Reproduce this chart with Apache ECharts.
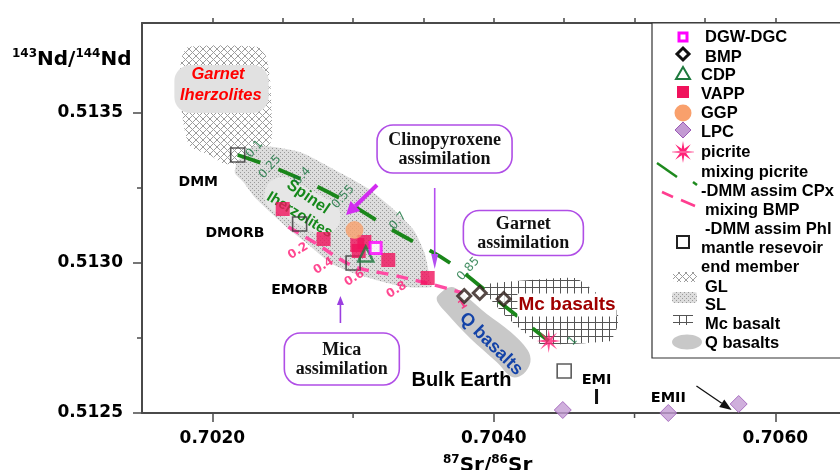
<!DOCTYPE html>
<html>
<head>
<meta charset="utf-8">
<script src="https://cdn.jsdelivr.net/npm/echarts@6/dist/echarts.min.js"></script>
<style>
  html, body { margin: 0; padding: 0; background: #fff; }
  #chart { width: 840px; height: 470px; }
</style>
</head>
<body>
<div id="chart"></div>
<script>
// ---- axes ----
const srRange = [0.7015, 0.70646];
const ndRange = [0.5125, 0.5138];
const srTopTicks = [0.7020, 0.7025, 0.7030, 0.7035, 0.7040, 0.7045, 0.7050, 0.7055, 0.7060];
const srMajorTicks = [0.7020, 0.7040, 0.7060];
const srMinorTicks = [0.7030, 0.7050];
const ndMajorTicks = [0.5125, 0.5130, 0.5135];
const ndMinorTicks = [0.51275, 0.51325];

// ---- samples: [87Sr/86Sr, 143Nd/144Nd] ----
const dgwDgc = [[0.70316, 0.51305]];
const bmp = [[0.70379, 0.51289], [0.70390, 0.51290], [0.70407, 0.51288]];
const cdp = [[0.70309, 0.51303]];
const vapp = [[0.70250, 0.51318], [0.70279, 0.51308], [0.70303, 0.51306], [0.70308, 0.51307],
              [0.70304, 0.51304], [0.70325, 0.51301], [0.70353, 0.51295]];
const ggp = [[0.70301, 0.51311]];
const lpc = [[0.70449, 0.51251], [0.70524, 0.51250], [0.70574, 0.51253]];
const picrite = [[0.70439, 0.51274]];
const endMembers = [[0.70218, 0.51336], [0.70262, 0.51313], [0.70300, 0.51300], [0.70450, 0.51264]];

// ---- mixing models ----
const mixPicriteDmm = [[0.70218, 0.51336], [0.70248, 0.51331], [0.70289, 0.51322], [0.70328, 0.51311],
                       [0.70369, 0.51300], [0.70404, 0.51287], [0.70439, 0.51274]];
const mixPicriteSteps = [['0.1', 0.70230, 0.51338], ['0.25', 0.70241, 0.51332], ['0.4', 0.70264, 0.51329],
                         ['0.55', 0.70293, 0.51322], ['0.7', 0.70332, 0.51314], ['0.85', 0.70382, 0.51298],
                         ['1', 0.70456, 0.51274]];
const mixBmpDmm = [[0.70254, 0.51312], [0.70272, 0.51307], [0.70300, 0.51299], [0.70328, 0.51296],
                   [0.70355, 0.51293], [0.70378, 0.51290]];
const mixBmpSteps = [['0.2', 0.70261, 0.51304], ['0.4', 0.70279, 0.51299], ['0.6', 0.70301, 0.51295],
                     ['0.8', 0.70331, 0.51291], ['1', 0.70378, 0.51286]];

// ---- compositional fields (outlines) ----
const fieldGL = [[0.70183, 0.51372], [0.70232, 0.51372], [0.70238, 0.51369], [0.70241, 0.51361],
                 [0.70242, 0.51351], [0.70242, 0.51341], [0.70235, 0.51336], [0.70225, 0.51334],
                 [0.70209, 0.51333], [0.70198, 0.51336], [0.70184, 0.51339], [0.70179, 0.51348],
                 [0.70177, 0.51361], [0.70178, 0.51368]];
const fieldSL = [[0.70230, 0.51339], [0.70262, 0.51337], [0.70291, 0.51330], [0.70310, 0.51325],
                 [0.70326, 0.51319], [0.70343, 0.51311], [0.70351, 0.51303], [0.70355, 0.51294],
                 [0.70356, 0.51292], [0.70337, 0.51292], [0.70319, 0.51294], [0.70298, 0.51297],
                 [0.70284, 0.51300], [0.70266, 0.51307], [0.70255, 0.51311], [0.70241, 0.51317],
                 [0.70230, 0.51322], [0.70222, 0.51327], [0.70216, 0.51330], [0.70218, 0.51334]];
const fieldMc = [[0.70394, 0.51293], [0.70458, 0.51295], [0.70488, 0.51284], [0.70488, 0.51279],
                 [0.70483, 0.51274], [0.70433, 0.51273], [0.70409, 0.51282], [0.70394, 0.51290]];
const fieldQ = [[0.70360, 0.51289], [0.70370, 0.51292], [0.70380, 0.51289], [0.70395, 0.51283],
                [0.70412, 0.51277], [0.70424, 0.51271], [0.70426, 0.51267], [0.70421, 0.51263],
                [0.70413, 0.51262], [0.70402, 0.51267], [0.70383, 0.51275], [0.70367, 0.51283],
                [0.70360, 0.51287]];

// ---- fill textures ----
function tile(size, draw) {
  const c = document.createElement('canvas');
  c.width = c.height = size;
  draw(c.getContext('2d'), size);
  return { image: c, repeat: 'repeat' };
}
const hatchGL = tile(7, (g, s) => {
  g.fillStyle = '#fff'; g.fillRect(0, 0, s, s);
  g.strokeStyle = '#9c9c9c'; g.lineWidth = 1;
  g.beginPath(); g.moveTo(0, 0); g.lineTo(s, s); g.moveTo(s, 0); g.lineTo(0, s); g.stroke();
});
const dotsSL = tile(4, (g, s) => {
  g.fillStyle = '#dddddd'; g.fillRect(0, 0, s, s);
  g.fillStyle = '#999999'; g.fillRect(0, 0, 1, 1); g.fillRect(2, 2, 1, 1);
});
const gridMc = tile(7, (g, s) => {
  g.fillStyle = '#fff'; g.fillRect(0, 0, s, s);
  g.fillStyle = '#555'; g.fillRect(0, 0, s, 1); g.fillRect(0, 0, 1, s);
});
const fieldShapes = [fieldGL, fieldSL, fieldMc, fieldQ];
const fieldFills = [hatchGL, dotsSL, gridMc, '#c8c8c8'];
const fieldSmooth = [0.25, 0.2, 0.1, 0.35];

function starPoints(n, rOut, rIn, cx, cy) {
  const pts = [];
  for (let k = 0; k < 2 * n; k++) {
    const r = k % 2 ? rIn : rOut;
    const a = Math.PI * k / n - Math.PI / 2;
    pts.push([cx + r * Math.cos(a), cy + r * Math.sin(a)]);
  }
  return pts;
}
const starSymbol = 'path://' + starPoints(8, 12, 3.6, 0, 0)
  .map((p, i) => (i ? 'L' : 'M') + p[0].toFixed(2) + ' ' + p[1].toFixed(2)).join(' ') + ' Z';

const boldSans = '"DejaVu Sans", Verdana, sans-serif';
const arial = '"Liberation Sans", Arial, sans-serif';
const serif = '"Liberation Serif", "Times New Roman", serif';
const axisColor = '#4a4a4a';

const chart = echarts.init(document.getElementById('chart'), null, { renderer: 'canvas' });

const stepLabel = (color, rotate, size, weight) => ({
  show: true, position: 'inside', rotate: rotate,
  formatter: p => p.value[2],
  color: color, fontSize: size, fontWeight: weight, fontFamily: boldSans
});

const option = {
  animation: false,
  backgroundColor: '#fff',
  grid: { left: 142, right: 0, top: 23, bottom: 57 },
  xAxis: [
    {
      type: 'value', position: 'bottom', min: srRange[0], max: srRange[1],
      axisLine: { show: true, onZero: false, lineStyle: { color: axisColor, width: 2 } },
      axisTick: { show: true, customValues: srMajorTicks, length: 9, lineStyle: { color: axisColor, width: 1.5 } },
      axisLabel: {
        customValues: srMajorTicks, formatter: v => v.toFixed(4), margin: 17,
        color: '#000', fontFamily: boldSans, fontWeight: 'bold', fontSize: 17
      },
      splitLine: { show: false }
    },
    {
      type: 'value', position: 'top', min: srRange[0], max: srRange[1],
      axisLine: { show: true, onZero: false, lineStyle: { color: axisColor, width: 2 } },
      axisTick: { show: true, customValues: srTopTicks, length: 5, lineStyle: { color: axisColor, width: 1.5 } },
      axisLabel: { show: false },
      splitLine: { show: false }
    }
  ],
  yAxis: [
    {
      type: 'value', position: 'left', min: ndRange[0], max: ndRange[1],
      axisLine: { show: true, onZero: false, lineStyle: { color: axisColor, width: 2 } },
      axisTick: { show: true, customValues: ndMajorTicks, length: 9, lineStyle: { color: axisColor, width: 1.5 } },
      axisLabel: {
        customValues: ndMajorTicks, formatter: v => v.toFixed(4), margin: 19,
        color: '#000', fontFamily: boldSans, fontWeight: 'bold', fontSize: 17
      },
      splitLine: { show: false }
    }
  ],
  series: [
    {
      name: 'fields', type: 'custom', z: 1, silent: true, clip: false,
      encode: { x: 0, y: 1 },
      data: fieldShapes.map(f => f[0]),
      renderItem: (params, api) => {
        const i = params.dataIndex;
        return {
          type: 'polygon',
          shape: { points: fieldShapes[i].map(p => api.coord(p)), smooth: fieldSmooth[i] },
          style: { fill: fieldFills[i] }
        };
      }
    },
    {
      name: 'mixing picrite-DMM assim CPx', type: 'line', z: 3, data: mixPicriteDmm,
      smooth: 0.35, symbol: 'none', silent: true,
      lineStyle: { color: '#1a861a', width: 3.8, type: [24, 19] }
    },
    {
      name: 'mixing BMP-DMM assim Phl', type: 'line', z: 3, data: mixBmpDmm,
      smooth: 0.35, symbol: 'none', silent: true,
      lineStyle: { color: '#ff4ca3', width: 3.5, type: [12, 8] }
    },
    {
      name: 'picrite steps', type: 'scatter', z: 4, symbolSize: 0, silent: true,
      data: mixPicriteSteps.map(s => [s[1], s[2], s[0]]),
      label: stepLabel('#12703a', 48, 12, 'normal')
    },
    {
      name: 'BMP steps', type: 'scatter', z: 4, symbolSize: 0, silent: true,
      data: mixBmpSteps.map(s => [s[1], s[2], s[0]]),
      label: stepLabel('#ff1a75', 32, 12, 'bold')
    },
    {
      name: 'mantle resevoir end member', type: 'scatter', z: 4, data: endMembers,
      symbol: 'rect', symbolSize: 14,
      itemStyle: { color: 'rgba(0,0,0,0)', borderColor: '#333', borderWidth: 1.6 }
    },
    {
      name: 'VAPP', type: 'scatter', z: 5, data: vapp, symbol: 'rect', symbolSize: 14,
      itemStyle: { color: '#f0125c' }
    },
    {
      name: 'GGP', type: 'scatter', z: 5, data: ggp, symbol: 'circle', symbolSize: 18,
      itemStyle: { color: '#f9a06c' }
    },
    {
      name: 'CDP', type: 'scatter', z: 6, data: cdp, symbol: 'triangle', symbolSize: 15,
      itemStyle: { color: 'rgba(0,0,0,0)', borderColor: '#1e7a3e', borderWidth: 2.5 }
    },
    {
      name: 'DGW-DGC', type: 'scatter', z: 6, data: dgwDgc, symbol: 'rect', symbolSize: 11,
      itemStyle: { color: '#fff', borderColor: '#ff00ff', borderWidth: 3 }
    },
    {
      name: 'BMP', type: 'scatter', z: 6, data: bmp, symbol: 'diamond', symbolSize: 13,
      itemStyle: { color: '#fff', borderColor: '#2b1a17', borderWidth: 3 }
    },
    {
      name: 'LPC', type: 'scatter', z: 6, data: lpc, symbol: 'diamond', symbolSize: 17,
      itemStyle: { color: '#c39bd3', borderColor: '#9b59b6', borderWidth: 1 }
    },
    {
      name: 'picrite', type: 'scatter', z: 6, data: picrite, symbol: starSymbol, symbolSize: 24,
      itemStyle: { color: '#ff2277' }
    }
  ]
};
chart.setOption(option);

// ---- annotations placed in data space ----
const toPx = p => chart.convertToPixel({ xAxisIndex: 0, yAxisIndex: 0 }, p);
const els = [];

function text(str, at, font, fill, opts) {
  const p = toPx(at);
  const o = opts || {};
  els.push({
    type: 'text', z: o.z || 50, x: p[0], y: p[1], rotation: o.rotation || 0,
    style: Object.assign({
      text: str, font: font, fill: fill,
      align: o.align || 'center', verticalAlign: 'middle',
      textAlign: o.align || 'center', textVerticalAlign: 'middle'
    }, o.style || {})
  });
}
function arrow(from, to, color, width, headLen, headHalf) {
  const a = toPx(from), b = toPx(to);
  const dx = b[0] - a[0], dy = b[1] - a[1], len = Math.hypot(dx, dy);
  const ux = dx / len, uy = dy / len;
  const base = [b[0] - ux * headLen, b[1] - uy * headLen];
  els.push({ type: 'line', z: 50, shape: { x1: a[0], y1: a[1], x2: base[0], y2: base[1] },
             style: { stroke: color, lineWidth: width } });
  els.push({ type: 'polygon', z: 50, shape: { points: [
    b, [base[0] - uy * headHalf, base[1] + ux * headHalf], [base[0] + uy * headHalf, base[1] - ux * headHalf]
  ] }, style: { fill: color } });
}
function noteBox(lines, center, w, h) {
  const c = toPx(center);
  els.push({ type: 'rect', z: 45, shape: { x: c[0] - w / 2, y: c[1] - h / 2, width: w, height: h, r: 16 },
             style: { fill: '#fff', stroke: '#b04ee6', lineWidth: 1.6 } });
  els.push({ type: 'text', z: 50, x: c[0], y: c[1] + 1, style: {
    text: lines.join('\n'), font: 'bold 18px ' + serif, fill: '#111', lineHeight: 19,
    align: 'center', verticalAlign: 'middle', textAlign: 'center', textVerticalAlign: 'middle' } });
}

// label backgrounds for the lherzolite fields
const g1 = toPx([0.70173, 0.51366]), g2 = toPx([0.70240, 0.51350]);
els.push({ type: 'rect', z: 2, shape: { x: g1[0], y: g1[1], width: g2[0] - g1[0], height: g2[1] - g1[1], r: 16 },
           style: { fill: '#e1e1e1' } });
const sp = toPx([0.70264, 0.51319]);
els.push({ type: 'rect', z: 2, x: sp[0], y: sp[1], rotation: -0.5,
           shape: { x: -41, y: -18, width: 82, height: 36, r: 18 }, style: { fill: '#e6e6e6' } });

text('Garnet', [0.70204, 0.51363], 'italic bold 16.5px ' + arial, '#ff0000');
text('Iherzolites', [0.70206, 0.51356], 'italic bold 16.5px ' + arial, '#ff0000');
text('Spinel', [0.70268, 0.51322], 'bold 16px ' + arial, '#15881a', { rotation: -0.6, z: 4 });
text('Iherzolites', [0.70262, 0.51316], 'bold 15px ' + arial, '#15881a', { rotation: -0.55, z: 4 });

text('DMM', [0.70190, 0.51327], 'bold 14px ' + boldSans, '#000');
text('DMORB', [0.70216, 0.51310], 'bold 14px ' + boldSans, '#000');
text('EMORB', [0.70262, 0.51291], 'bold 14px ' + boldSans, '#000');
text('EMI', [0.70473, 0.51261], 'bold 14.5px ' + boldSans, '#000');
text('EMII', [0.70524, 0.51255], 'bold 14.5px ' + boldSans, '#000');
text('Bulk Earth', [0.70377, 0.51261], 'bold 20px ' + arial, '#000');
text('Mc basalts', [0.70452, 0.51286], 'bold 19px ' + arial, '#a00000',
     { style: { backgroundColor: '#fff', padding: [2, 1, 2, 1] } });
text('Q basalts', [0.70398, 0.51273], 'bold 18px ' + arial, '#1343a8', { rotation: -0.78 });

noteBox(['Clinopyroxene', 'assimilation'], [0.70365, 0.51338], 135, 48);
noteBox(['Garnet', 'assimilation'], [0.70421, 0.51310], 120, 45);
noteBox(['Mica', 'assimilation'], [0.70292, 0.51268], 115, 52);

arrow([0.70358, 0.51325], [0.70358, 0.51298], '#b44ef0', 1.6, 15, 3.5);
arrow([0.70291, 0.51280], [0.70291, 0.51289], '#9b3ee0', 1.6, 9, 3.5);
arrow([0.70317, 0.51326], [0.70295, 0.51316], '#d22cf0', 4, 13, 7);
arrow([0.70544, 0.51259], [0.70569, 0.51251], '#111', 1.3, 12, 4.5);

// EMI marker
const e1 = toPx([0.70473, 0.51258]), e2 = toPx([0.70473, 0.51253]);
els.push({ type: 'line', z: 50, shape: { x1: e1[0], y1: e1[1], x2: e2[0], y2: e2[1] },
           style: { stroke: '#111', lineWidth: 3 } });

// minor axis ticks
srMinorTicks.forEach(v => {
  const p = toPx([v, ndRange[0]]);
  els.push({ type: 'line', z: 10, shape: { x1: p[0], y1: p[1], x2: p[0], y2: p[1] + 5 },
             style: { stroke: axisColor, lineWidth: 1.5 } });
});
ndMinorTicks.forEach(v => {
  const p = toPx([srRange[0], v]);
  els.push({ type: 'line', z: 10, shape: { x1: p[0] - 5, y1: p[1], x2: p[0], y2: p[1] },
             style: { stroke: axisColor, lineWidth: 1.5 } });
});

// axis titles
const titleRich = {
  n: { fontFamily: boldSans, fontWeight: 'bold', fontSize: 20, color: '#000' },
  s: { fontFamily: boldSans, fontWeight: 'bold', fontSize: 12, color: '#000', verticalAlign: 'top', lineHeight: 24 }
};
els.push({ type: 'text', z: 50, x: 12, y: 48, style: {
  text: '{s|143}{n|Nd/}{s|144}{n|Nd}', rich: titleRich, align: 'left', verticalAlign: 'top',
  textAlign: 'left', textVerticalAlign: 'top' } });
els.push({ type: 'text', z: 50, x: 443, y: 454, style: {
  text: '{s|87}{n|Sr/}{s|86}{n|Sr}', rich: titleRich, align: 'left', verticalAlign: 'top',
  textAlign: 'left', textVerticalAlign: 'top' } });

// ---- legend panel ----
const legFont = 'bold 16.5px ' + arial;
els.push({ type: 'rect', z: 60, shape: { x: 652, y: 23, width: 200, height: 335 },
           style: { fill: '#fff', stroke: '#333', lineWidth: 1.2 } });
const legRows = [
  ['DGW-DGC', 705, 37], ['BMP', 705, 57], ['CDP', 701, 75], ['VAPP', 701, 94], ['GGP', 701, 113],
  ['LPC', 701, 132], ['picrite', 701, 152], ['mixing picrite', 701, 172], ['-DMM assim CPx', 701, 191],
  ['mixing BMP', 705, 210], ['-DMM assim Phl', 705, 229], ['mantle resevoir', 701, 248],
  ['end member', 701, 267], ['GL', 705, 287], ['SL', 705, 305], ['Mc basalt', 705, 324], ['Q basalts', 705, 343]
];
legRows.forEach(r => els.push({ type: 'text', z: 61, x: r[1], y: r[2], style: {
  text: r[0], font: legFont, fill: '#000', align: 'left', verticalAlign: 'middle',
  textAlign: 'left', textVerticalAlign: 'middle' } }));
const ic = (o) => { o.z = 61; els.push(o); };
ic({ type: 'rect', shape: { x: 679, y: 33, width: 8, height: 8 }, style: { fill: '#fff', stroke: '#ff00ff', lineWidth: 3 } });
ic({ type: 'polygon', shape: { points: [[683, 48], [689, 54], [683, 60], [677, 54]] }, style: { fill: '#fff', stroke: '#111', lineWidth: 3 } });
ic({ type: 'polygon', shape: { points: [[683, 67], [690, 79], [676, 79]] }, style: { fill: 'none', stroke: '#1e7a3e', lineWidth: 2 } });
ic({ type: 'rect', shape: { x: 677, y: 86, width: 12, height: 12 }, style: { fill: '#f0125c' } });
ic({ type: 'circle', shape: { cx: 683, cy: 113, r: 8.5 }, style: { fill: '#f9a06c' } });
ic({ type: 'polygon', shape: { points: [[683, 122], [691, 130], [683, 138], [675, 130]] }, style: { fill: '#c39bd3', stroke: '#9b59b6', lineWidth: 1 } });
ic({ type: 'polygon', shape: { points: starPoints(8, 11, 3.4, 683, 152) }, style: { fill: '#ff2277' } });
ic({ type: 'line', shape: { x1: 672, y1: 152, x2: 694, y2: 152 }, style: { stroke: '#ff9dc4', lineWidth: 1 } });
ic({ type: 'line', shape: { x1: 657, y1: 163, x2: 677, y2: 177 }, style: { stroke: '#1e8a1e', lineWidth: 2.5 } });
ic({ type: 'line', shape: { x1: 693, y1: 182, x2: 697, y2: 185 }, style: { stroke: '#1e8a1e', lineWidth: 2.5 } });
ic({ type: 'line', shape: { x1: 662, y1: 192, x2: 673, y2: 197 }, style: { stroke: '#ff3d8f', lineWidth: 2.5 } });
ic({ type: 'line', shape: { x1: 681, y1: 200, x2: 695, y2: 206 }, style: { stroke: '#ff3d8f', lineWidth: 2.5 } });
ic({ type: 'rect', shape: { x: 677, y: 236, width: 12, height: 12 }, style: { fill: 'none', stroke: '#222', lineWidth: 2 } });
ic({ type: 'rect', shape: { x: 673, y: 272, width: 24, height: 10, r: 3 }, style: { fill: hatchGL } });
ic({ type: 'rect', shape: { x: 672, y: 292, width: 25, height: 11, r: 3 }, style: { fill: dotsSL } });
ic({ type: 'rect', shape: { x: 673, y: 315, width: 20, height: 10 }, style: { fill: gridMc } });
ic({ type: 'ellipse', shape: { cx: 687, cy: 342, rx: 15, ry: 7.5 }, style: { fill: '#c8c8c8' } });

chart.setOption({ graphic: { elements: els } });
</script>
</body>
</html>
